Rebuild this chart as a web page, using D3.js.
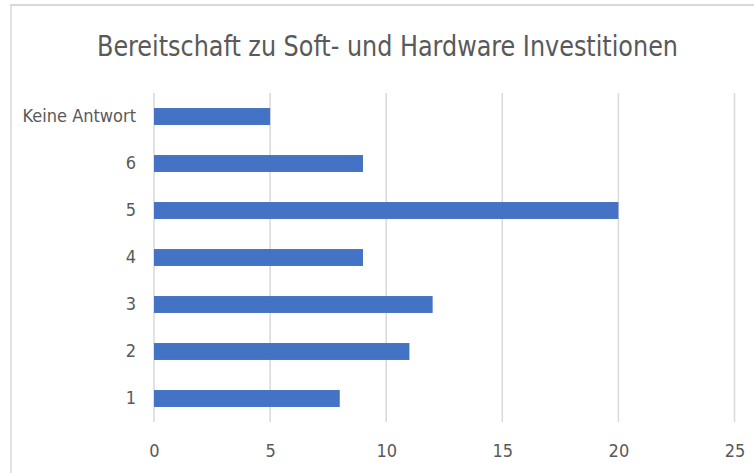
<!DOCTYPE html>
<html>
<head>
<meta charset="utf-8">
<script src="https://cdn.jsdelivr.net/npm/d3@7"></script>
<style>
  body { margin: 0; background: #fff; }
  text { font-family: "Liberation Sans Narrow", "DejaVu Sans Condensed", sans-serif; fill: #595959; }
</style>
</head>
<body>
<div class="chart"></div>
<script>
// data, top row first
var categories = ["Keine Antwort", "6", "5", "4", "3", "2", "1"];
var values = [5, 9, 20, 9, 12, 11, 8];
var xTicks = [0, 5, 10, 15, 20, 25];
var title = "Bereitschaft zu Soft- und Hardware Investitionen";

var svgWidth = 754;
var svgHeight = 473;

var margin = { top: 93, bottom: 51, left: 154, right: 20 };
var width = 734.5 - margin.left;
var height = svgHeight - margin.top - margin.bottom;

var svg = d3.select(".chart")
  .append("svg")
  .attr("width", svgWidth)
  .attr("height", svgHeight);

// chart border (cut off at right and bottom like the screenshot)
svg.append("line")
  .attr("x1", 10).attr("x2", svgWidth).attr("y1", 5).attr("y2", 5)
  .attr("stroke", "#d9d9d9").attr("stroke-width", 2);
svg.append("line")
  .attr("x1", 11).attr("x2", 11).attr("y1", 4).attr("y2", svgHeight)
  .attr("stroke", "#d9d9d9").attr("stroke-width", 1.5);

// title, squeezed to the narrow width of the original
svg.append("text")
  .attr("x", 387.5)
  .attr("y", 56)
  .attr("text-anchor", "middle")
  .attr("font-size", "29px")
  .attr("textLength", 581)
  .attr("lengthAdjust", "spacingAndGlyphs")
  .text(title);

var chartGroup = svg.append("g")
  .attr("transform", `translate(${margin.left}, ${margin.top})`);

var xScale = d3.scaleLinear()
  .domain([0, 25])
  .range([0, width]);

var yScale = d3.scaleBand()
  .domain(categories)
  .range([0, height])
  .paddingInner(0.64)
  .paddingOuter(0.32);

// gridlines
chartGroup.selectAll(".grid")
  .data(xTicks)
  .enter()
  .append("line")
  .attr("class", "grid")
  .attr("x1", d => xScale(d))
  .attr("x2", d => xScale(d))
  .attr("y1", 0)
  .attr("y2", height)
  .attr("stroke", "#d9d9d9")
  .attr("stroke-width", 1.5);

// x axis labels
var xAxis = d3.axisBottom(xScale).tickValues(xTicks).tickSize(0).tickPadding(22);
var xg = chartGroup.append("g")
  .attr("transform", `translate(0, ${height})`)
  .call(xAxis);
xg.select(".domain").remove();
xg.attr("font-family", null);
xg.selectAll("text")
  .attr("font-size", "18px")
  .attr("fill", "#595959");

// y axis labels
var yAxis = d3.axisLeft(yScale).tickSize(0).tickPadding(18);
var yg = chartGroup.append("g").call(yAxis);
yg.select(".domain").remove();
yg.attr("font-family", null);
yg.selectAll("text")
  .attr("font-size", "18px")
  .attr("fill", "#595959");

// bars
chartGroup.selectAll("rect")
  .data(values)
  .enter()
  .append("rect")
  .attr("x", 0)
  .attr("y", (d, i) => yScale(categories[i]))
  .attr("width", d => xScale(d))
  .attr("height", yScale.bandwidth())
  .attr("fill", "#4472c4");
</script>
</body>
</html>
